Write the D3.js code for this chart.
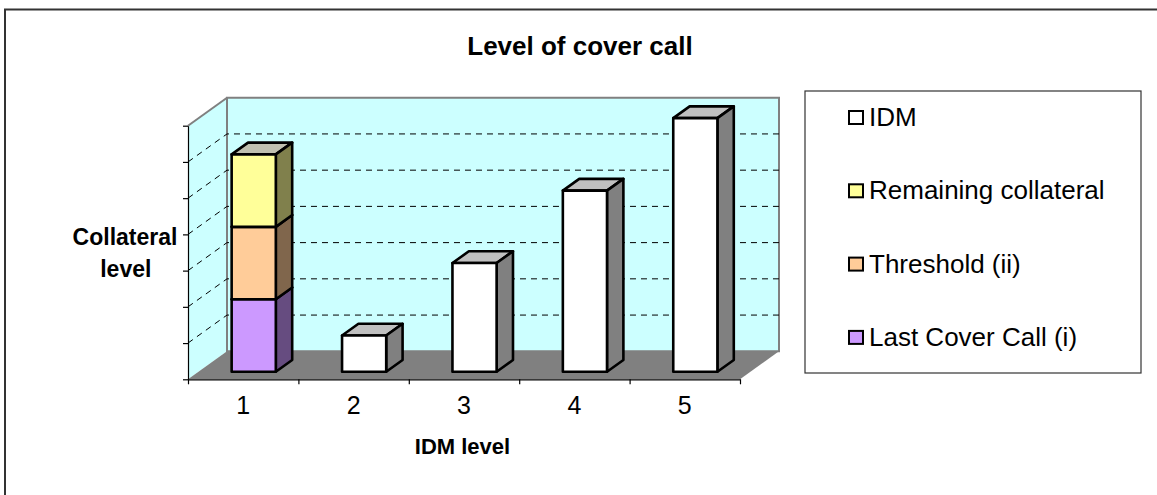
<!DOCTYPE html>
<html>
<head>
<meta charset="utf-8">
<script src="https://cdn.jsdelivr.net/npm/d3@7"></script>
<style>
  html, body { margin: 0; padding: 0; background: #ffffff; }
  svg { display: block; font-family: "Liberation Sans", Arial, sans-serif; }
</style>
</head>
<body>
<svg id="chart" width="1157" height="495"></svg>
<script>
// ---- data ----
const categories = ["1", "2", "3", "4", "5"];
const lastCoverCall = [2, 0, 0, 0, 0];
const threshold = [2, 0, 0, 0, 0];
const remainingCollateral = [2, 0, 0, 0, 0];
const idm = [0, 1, 3, 5, 7];
const seriesKeys = ["last", "threshold", "remaining", "idm"];
const seriesNames = ["Last Cover Call (i)", "Threshold (ii)", "Remaining collateral", "IDM"];
const yTickValues = [0, 1, 2, 3, 4, 5, 6, 7];

// face colours: front, side (shaded), top
const palette = {
  last:      { front: "#cc99ff", side: "#664c80", top: "#9973bf" },
  threshold: { front: "#ffcc99", side: "#80664c", top: "#bf9973" },
  remaining: { front: "#ffff99", side: "#80804c", top: "#c0c0b0" },
  idm:       { front: "#ffffff", side: "#808080", top: "#c0c0c0" }
};

const rows = categories.map((c, i) => ({
  cat: c,
  last: lastCoverCall[i],
  threshold: threshold[i],
  remaining: remainingCollateral[i],
  idm: idm[i]
}));

const svg = d3.select("#chart");

// outer chart frame
svg.append("rect")
  .attr("x", 5).attr("y", 9.5).attr("width", 1160).attr("height", 500)
  .attr("fill", "none").attr("stroke", "#333333").attr("stroke-width", 2);

// ---- scales and 3D projection ----
const x = d3.scaleBand().domain(categories).range([188, 740]).paddingInner(0).paddingOuter(0);
const xEdge = d3.scaleLinear().domain([0, categories.length]).range([188, 740]);
const y = d3.scaleLinear().domain([0, 7]).range([379.3, 125.7]);
const depth = { dx: 39, dy: -28 };
const proj = (px, v, f) => [px + f * depth.dx, y(v) + f * depth.dy];

const x0 = xEdge(0), x1 = xEdge(categories.length);
const vMax = y.domain()[1];

// side wall
svg.append("polygon")
  .attr("points", [proj(x0, 0, 0), proj(x0, 0, 1), proj(x0, vMax, 1), proj(x0, vMax, 0)].join(" "))
  .attr("fill", "#ccffff").attr("stroke", "none");
// back wall
svg.append("polygon")
  .attr("points", [proj(x0, 0, 1), proj(x1, 0, 1), proj(x1, vMax, 1), proj(x0, vMax, 1)].join(" "))
  .attr("fill", "#ccffff").attr("stroke", "#808080").attr("stroke-width", 2);
// side wall top edge
svg.append("line")
  .attr("x1", proj(x0, vMax, 0)[0]).attr("y1", proj(x0, vMax, 0)[1])
  .attr("x2", proj(x0, vMax, 1)[0]).attr("y2", proj(x0, vMax, 1)[1])
  .attr("stroke", "#808080").attr("stroke-width", 2);

// dashed gridlines on both walls
const gridVals = yTickValues.filter(v => v > 0 && v < vMax);
const grid = svg.append("g").attr("stroke", "#000").attr("stroke-width", 1)
  .attr("stroke-dasharray", "6,5").attr("fill", "none");
gridVals.forEach(v => {
  const a = proj(x0, v, 0), b = proj(x0, v, 1), c = proj(x1, v, 1);
  grid.append("polyline").attr("points", [a, b, c].join(" "));
});

// floor
svg.append("polygon")
  .attr("points", [proj(x0, 0, 0), proj(x1, 0, 0), proj(x1, 0, 1), proj(x0, 0, 1)].join(" "))
  .attr("fill", "#808080");

// ---- stacked 3D columns ----
const stacked = d3.stack().keys(seriesKeys)(rows);
const barFrac = 0.4;
const f0 = 0.27, f1 = 0.69;
const bars = svg.append("g")
  .attr("stroke", "#000").attr("stroke-width", 2.6).attr("stroke-linejoin", "round");

categories.forEach((c, i) => {
  const bw = x.bandwidth() * barFrac;
  const bl = x(c) + (x.bandwidth() - bw) / 2;
  const br = bl + bw;
  stacked.forEach(layer => {
    const [v0, v1] = layer[i];
    if (v1 - v0 <= 0) return;
    const col = palette[layer.key];
    // top face
    bars.append("polygon")
      .attr("points", [proj(bl, v1, f0), proj(br, v1, f0), proj(br, v1, f1), proj(bl, v1, f1)].join(" "))
      .attr("fill", col.top);
    // side face
    bars.append("polygon")
      .attr("points", [proj(br, v0, f0), proj(br, v1, f0), proj(br, v1, f1), proj(br, v0, f1)].join(" "))
      .attr("fill", col.side);
    // front face
    const p = proj(bl, v1, f0), q = proj(br, v0, f0);
    bars.append("rect")
      .attr("x", p[0]).attr("y", p[1]).attr("width", q[0] - p[0]).attr("height", q[1] - p[1])
      .attr("fill", col.front);
  });
});

// ---- axes ----
const yAxis = svg.append("g").attr("transform", `translate(${x0},0)`)
  .call(d3.axisLeft(y).tickValues(yTickValues).tickSize(5).tickSizeOuter(0).tickFormat(""));
yAxis.selectAll("path, line").attr("stroke", "#000").attr("stroke-width", 1.2);

const xAxis = svg.append("g").attr("transform", `translate(0,${y(0)})`)
  .call(d3.axisBottom(xEdge).tickValues(d3.range(categories.length + 1)).tickSize(5).tickSizeOuter(0).tickFormat(""));
xAxis.selectAll("path, line").attr("stroke", "#000").attr("stroke-width", 1.2);

const xLabels = svg.append("g").attr("transform", `translate(0,${y(0)})`)
  .call(d3.axisBottom(x).tickSize(0).tickPadding(16));
xLabels.select(".domain").remove();
xLabels.selectAll("text")
  .attr("font-family", "Liberation Sans, Arial, sans-serif")
  .attr("font-size", 25).attr("fill", "#000")
  .attr("dy", null).attr("y", 35);

// ---- titles ----
svg.append("text")
  .attr("x", 580).attr("y", 55).attr("text-anchor", "middle")
  .attr("font-size", 26).attr("font-weight", "bold").attr("fill", "#000")
  .text("Level of cover call");

svg.append("text")
  .attr("x", 125).attr("y", 245).attr("text-anchor", "middle")
  .attr("font-size", 23).attr("font-weight", "bold")
  .text("Collateral");
svg.append("text")
  .attr("x", 125.8).attr("y", 277).attr("text-anchor", "middle")
  .attr("font-size", 23).attr("font-weight", "bold")
  .text("level");

svg.append("text")
  .attr("x", 462.5).attr("y", 454).attr("text-anchor", "middle")
  .attr("font-size", 22).attr("font-weight", "bold")
  .text("IDM level");

// ---- legend ----
svg.append("rect")
  .attr("x", 805).attr("y", 91).attr("width", 336).attr("height", 282)
  .attr("fill", "#fff").attr("stroke", "#333333").attr("stroke-width", 1.2);

const legendOrder = [3, 2, 1, 0];
const leg = svg.append("g");
legendOrder.forEach((si, k) => {
  const key = seriesKeys[si];
  const base = 126 + k * 73.3;
  leg.append("rect")
    .attr("x", 849).attr("y", base - 15).attr("width", 14).attr("height", 13)
    .attr("fill", palette[key].front).attr("stroke", "#000").attr("stroke-width", 2);
  leg.append("text")
    .attr("x", 869).attr("y", base)
    .attr("font-size", 26).attr("fill", "#000")
    .text(seriesNames[si]);
});
</script>
</body>
</html>
